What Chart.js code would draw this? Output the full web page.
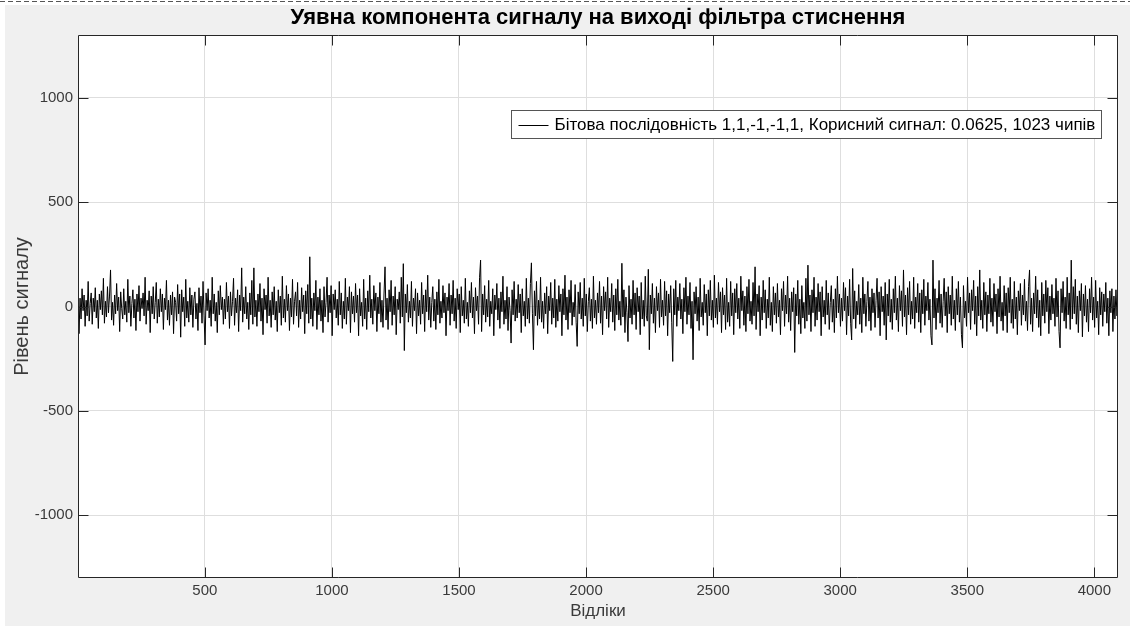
<!DOCTYPE html>
<html><head><meta charset="utf-8">
<script src="https://cdn.jsdelivr.net/npm/chart.js@4.4.0/dist/chart.umd.min.js"></script>
<style>html,body{margin:0;padding:0;background:#fff;}#wrap{position:relative;width:1130px;height:626px;}</style>
</head><body><div id="wrap"><canvas id="c" width="1130" height="626"></canvas></div>
<script>
const chartTitle = "Уявна компонента сигналу на виході фільтра стиснення";
const xAxisTitle = "Відліки";
const yAxisTitle = "Рівень сигналу";
const seriesLabel = "Бітова послідовність 1,1,-1,-1,1, Корисний сигнал: 0.0625, 1023 чипів";
const xTickValues = [500, 1000, 1500, 2000, 2500, 3000, 3500, 4000];
const yTickValues = [-1000, -500, 0, 500, 1000];
const xRange = [1, 4093];
const yRange = [-1300, 1300];
const sampleStart = 1;
const sampleStep = 4;
const signal = [
175,-130,40,-60,85,-20,55,-95,30,-45,120,-70,15,65,-85,40,
-25,90,-55,30,-105,60,-15,75,-40,135,-80,25,-50,95,-30,50,
175,-65,20,-90,55,-35,110,-20,45,-120,70,-10,-60,85,-40,25,
-75,130,-30,50,-95,15,80,-55,35,-115,60,-25,100,-70,40,-10,
65,-45,140,-85,30,-20,75,-125,50,-35,95,-60,20,115,-80,35,
-50,85,-25,60,-110,40,-15,125,-65,30,-90,55,-40,70,-130,45,
20,-70,105,-35,60,-147,80,-25,45,-95,130,-55,25,-75,90,-40,
55,-100,35,70,-60,15,-115,90,-30,50,-80,120,-45,-184,65,-20,
85,-55,30,-95,140,-35,60,-70,20,-125,75,-40,100,-15,45,-85,
35,-60,115,-25,50,-105,70,-45,25,135,-90,40,-30,80,-120,55,
-20,185,-75,45,-35,95,-60,20,-110,65,-40,125,-85,185,-50,30,
-95,60,-25,110,-70,40,-135,85,-15,55,-80,140,-45,30,-100,70,
-40,95,-65,25,-120,80,-30,50,-90,145,-55,35,-75,100,-20,60,
-115,40,-50,130,-85,25,70,-45,115,-100,30,-60,90,-25,55,-130,
75,-35,105,-80,238,-60,40,-95,65,-20,125,-110,45,-40,85,-70,
30,-125,95,-50,20,140,-75,55,-30,100,-140,60,-15,80,-55,35,
-90,120,-40,65,-105,25,-60,135,-85,45,-20,95,-125,70,-35,50,
-75,110,-30,55,-140,85,-45,20,-95,130,-60,40,-110,75,-25,150,
-55,35,-85,100,-20,65,-120,45,-35,115,-75,30,-100,60,190,-65,
40,-110,80,-25,125,-90,50,-40,95,-135,35,-15,70,-80,140,-50,
205,-211,60,-30,105,-75,25,-55,120,-95,40,-20,85,-130,65,-45,
30,-85,115,-35,55,-120,80,-25,150,-65,45,-100,20,95,-70,35,
-110,70,-40,130,-80,25,-55,100,-30,65,-140,45,-20,110,-90,55,
-35,125,-70,40,-105,85,-15,60,-125,95,-45,30,-80,135,-60,20,
-95,75,-30,115,-55,45,-130,90,-20,50,-85,140,222,-120,60,-40,
100,-75,35,-50,125,-95,25,-35,85,-140,55,-15,110,-65,40,-105,
70,-25,145,-85,30,-60,95,-115,45,-20,-175,80,-40,120,-70,35,
-55,105,-30,60,-125,85,-45,25,-95,135,-60,40,-80,110,209,-35,
-207,75,-45,120,-90,30,-60,140,-75,25,-105,65,-35,95,-130,50,
-20,115,-85,40,-55,130,-100,35,-70,100,-25,60,-140,85,-40,150,
-65,45,-110,80,-30,125,-90,20,-50,105,-75,-191,70,-35,115,-60,
40,-95,135,-45,60,-120,25,90,-70,35,-105,145,-55,30,-85,65,
-30,120,-80,50,-135,95,-20,70,-60,140,-100,40,-25,110,-75,55,
-115,85,-40,130,-65,25,-90,207,-50,80,-125,45,-30,-168,100,-55,
35,-85,125,-40,65,-110,90,-25,50,-135,115,-60,30,-95,145,-45,
-70,178,-207,55,-35,110,-80,40,-125,95,-20,65,-100,130,-50,30,
-90,120,-45,75,-140,60,-30,100,-75,-263,85,-40,125,-95,45,-20,
110,-60,35,-130,90,-25,140,-85,50,-40,115,-105,25,-255,70,-35,
95,-70,45,-115,135,-50,20,-90,105,-30,60,-140,80,-45,125,-65,
30,-100,150,-55,40,-85,115,-25,70,-125,90,-40,55,-110,135,-75,
20,-95,120,-45,65,-135,85,-30,110,-60,40,-105,145,-20,75,-90,
50,-120,95,-35,130,-70,25,-85,115,-45,190,-110,60,-25,100,-140,
45,-65,125,-30,80,-105,35,-55,140,-90,20,-120,95,-40,65,-80,
110,-50,30,-135,85,-20,120,-95,55,-35,145,-75,40,-115,70,-25,
90,-220,60,-45,125,-85,35,-130,100,-55,20,-105,135,-70,198,-40,
55,-120,80,-30,140,-95,45,-65,110,-25,70,-140,95,-50,30,-85,
125,-40,65,-110,20,100,-75,35,-125,85,-55,145,-30,60,-95,40,
-70,115,-20,90,-135,50,-45,130,-80,-160,182,-60,75,-105,25,-40,
105,-85,40,-125,140,-35,60,-95,25,120,-70,45,-115,85,-30,65,
-100,30,135,-55,70,-140,95,-25,50,-90,115,-160,60,-45,130,-75,
35,-110,85,-30,145,-65,40,-120,100,-20,75,-95,175,-50,55,-135,
90,-40,120,-85,25,-60,140,-105,45,-30,110,-75,65,-125,80,-35,
130,-90,50,-20,115,-65,35,-140,-184,222,-55,85,-110,40,-30,125,
-80,60,-100,25,135,-45,70,-125,95,-35,55,-90,145,-60,30,-115,
85,-40,120,-75,45,-135,-198,100,-55,25,-95,140,-30,65,-110,80,
-20,125,-85,50,-140,95,-45,175,-65,30,-105,115,-40,70,-120,55,
-35,135,-75,40,-95,110,-25,60,-130,85,-50,145,-70,20,-115,100,
-45,65,-125,90,-30,140,-80,35,-105,120,-60,45,-135,75,-20,110,
-90,55,-40,130,-70,25,-115,95,175,-85,40,-120,65,-35,145,-55,
80,-100,30,-140,115,-45,60,-80,125,-25,90,-130,50,-65,105,-35,
40,-95,135,-50,75,-120,-198,85,-30,120,-70,45,-105,140,-40,65,
-110,222,-60,95,-35,130,-85,50,-125,75,-20,110,-145,60,-45,100,
-75,35,-120,85,-30,140,-65,45,-100,125,-55,25,-135,90,-40,70,
-95,60,-25,115,-80,40,-140,75,-30,85,-120,50,-60,80,-45,65
];

const FONT = "'Liberation Sans', Arial, Helvetica, sans-serif";
Chart.defaults.font.family = FONT;
const AX = '#262626';
const LEGEND_FONT = '17px ' + FONT;

const framePlugin = {
  id: 'frame',
  beforeDraw(chart) {
    const {ctx, width, height, chartArea: a} = chart;
    ctx.save();
    ctx.fillStyle = '#ffffff';
    ctx.fillRect(0, 0, width, height);
    ctx.fillStyle = '#f0f0f0';
    ctx.fillRect(5, 5, width - 5, height - 5);
    ctx.strokeStyle = '#555';
    ctx.setLineDash([5, 3]);
    ctx.lineWidth = 1;
    ctx.beginPath(); ctx.moveTo(0, 1.5); ctx.lineTo(width, 1.5); ctx.stroke();
    ctx.setLineDash([]);
    ctx.fillStyle = '#ffffff';
    ctx.fillRect(a.left, a.top, a.right - a.left, a.bottom - a.top);
    ctx.restore();
  },
  afterDraw(chart) {
    const {ctx, chartArea: a, scales} = chart;
    ctx.save();
    ctx.strokeStyle = AX;
    ctx.lineWidth = 1;
    const L = Math.round(a.left) + 0.5, R = Math.round(a.right) - 0.5;
    const T = Math.round(a.top) + 0.5, B = Math.round(a.bottom) - 0.5;
    ctx.beginPath();
    ctx.rect(L, T, R - L, B - T);
    const tl = 10;
    xTickValues.forEach(v => {
      const px = Math.round(scales.x.getPixelForValue(v)) + 0.5;
      ctx.moveTo(px, B); ctx.lineTo(px, B - tl);
      ctx.moveTo(px, T); ctx.lineTo(px, T + tl);
    });
    yTickValues.forEach(v => {
      const py = Math.round(scales.y.getPixelForValue(v)) + 0.5;
      ctx.moveTo(L, py); ctx.lineTo(L + tl, py);
      ctx.moveTo(R, py); ctx.lineTo(R - tl, py);
    });
    ctx.stroke();
    // legend box
    ctx.font = LEGEND_FONT;
    const tw = ctx.measureText(seriesLabel).width;
    const boxW = Math.round(7 + 30 + 6 + tw + 6);
    const boxH = 28;
    const bx = Math.round(a.right - 17 - boxW) + 0.5;
    const by = Math.round(a.top + 75) + 0.5;
    ctx.fillStyle = '#fff';
    ctx.fillRect(bx, by, boxW, boxH);
    ctx.strokeStyle = '#555';
    ctx.strokeRect(bx, by, boxW, boxH);
    const cy = by + boxH / 2;
    ctx.strokeStyle = '#000';
    ctx.beginPath(); ctx.moveTo(bx + 7, Math.round(cy) + 0.5); ctx.lineTo(bx + 37, Math.round(cy) + 0.5); ctx.stroke();
    ctx.fillStyle = '#000';
    ctx.textBaseline = 'middle';
    ctx.textAlign = 'left';
    ctx.fillText(seriesLabel, bx + 43, cy + 0.5);
    ctx.restore();
  }
};

new Chart(document.getElementById('c'), {
  type: 'line',
  data: {
    datasets: [{
      label: seriesLabel,
      data: signal.map((v, i) => ({x: sampleStart + i * sampleStep, y: v})),
      borderColor: '#000000',
      borderWidth: 1,
      pointRadius: 0,
      tension: 0,
      fill: false
    }]
  },
  options: {
    responsive: false,
    animation: false,
    devicePixelRatio: 1,
    layout: {padding: {left: 0, right: 12, top: 0, bottom: 0}},
    plugins: {
      legend: {display: false},
      tooltip: {enabled: false},
      title: {
        display: true,
        fullSize: false,
        text: chartTitle,
        color: '#000',
        font: {size: 22, weight: 'bold', family: FONT},
        padding: {top: 5, bottom: 3.6}
      }
    },
    scales: {
      x: {
        type: 'linear',
        min: xRange[0], max: xRange[1],
        afterBuildTicks: s => { s.ticks = xTickValues.map(v => ({value: v})); },
        afterFit: s => { s.height = 48; },
        grid: {color: '#dedede', drawTicks: false},
        border: {display: false},
        ticks: {color: '#3a3a3a', font: {size: 15}, padding: 4, maxRotation: 0, autoSkip: false, callback: v => String(v)},
        title: {display: true, text: xAxisTitle, color: '#3a3a3a', font: {size: 17}, padding: {top: 0, bottom: 4.8}}
      },
      y: {
        type: 'linear',
        min: yRange[0], max: yRange[1],
        afterBuildTicks: s => { s.ticks = yTickValues.map(v => ({value: v})); },
        afterFit: s => { s.width = 78; },
        grid: {color: '#dedede', drawTicks: false},
        border: {display: false},
        ticks: {color: '#3a3a3a', font: {size: 15}, padding: 5, autoSkip: false, callback: v => String(v)},
        title: {display: true, text: yAxisTitle, color: '#3a3a3a', font: {size: 20}, padding: {top: 10, bottom: 0}}
      }
    }
  },
  plugins: [framePlugin]
});
</script></body></html>
